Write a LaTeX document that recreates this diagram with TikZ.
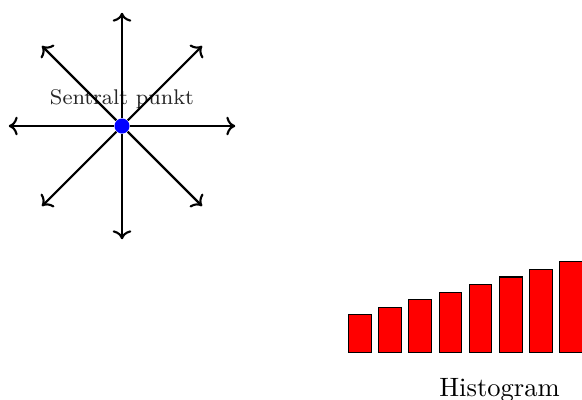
\documentclass[tikz,border=0pt]{standalone}
\usepackage{xcolor}
\usepackage{tikz}
\usetikzlibrary{
  arrows.meta,
  positioning,
  calc
}

\begin{document}
\begin{tikzpicture}[scale=1]

  % frame of the page
  \useasboundingbox (-1.616, -3.629) rectangle (6.093, 1.669);

  % the central point with its label
  \node[circle, fill=blue, minimum size=2mm, inner sep=0pt,
        label={[font=\footnotesize, text=black!85]above:Sentralt punkt}] (sp) at (0, 0) {};

  % arrows out in eight directions
  \foreach \ang in {0, 45, ..., 315} {
    \coordinate (end\ang) at (\ang:1.5);
    \draw[->, thick] (sp) -- (end\ang);
  }

  % histogram bars, growing to the right
  \foreach \i in {1, ..., 8} {
    \pgfmathsetmacro{\barx}{3 + 0.4*(\i-1)}
    \pgfmathsetmacro{\barh}{0.4 + 0.1*\i}
    \draw[fill=red] (\barx, -3) rectangle ++(0.3, \barh);
  }

  % caption under the bars
  \node (hist) at (5, -3.5) {Histogram};

\end{tikzpicture}
\end{document}
